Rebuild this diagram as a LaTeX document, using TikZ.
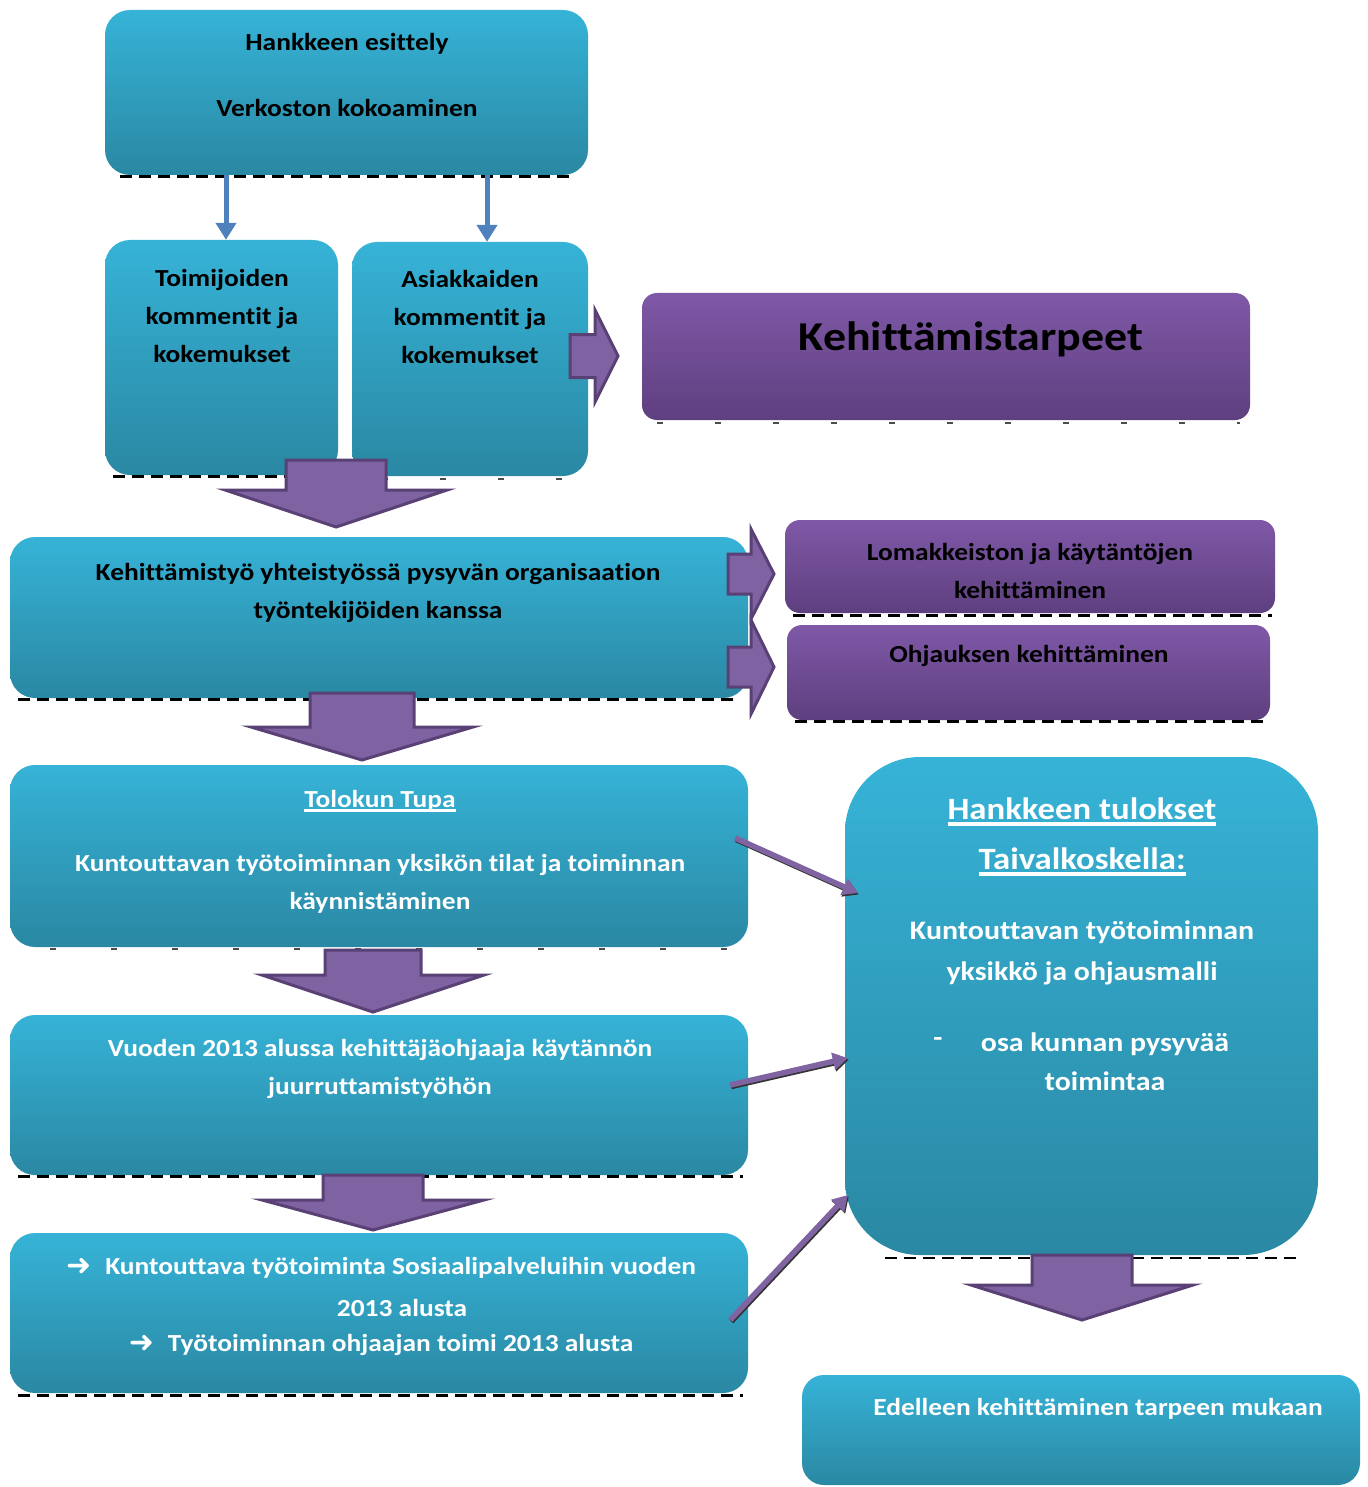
\documentclass[tikz,border=0pt]{standalone}
\usepackage{fontspec}
\setmainfont{Carlito}[FakeStretch=1.12, Ligatures={NoCommon}]
\newfontfamily\symfont{DejaVu Sans}
\usetikzlibrary{arrows.meta,calc}

\definecolor{bluetop}{HTML}{36B3D7}
\definecolor{bluebot}{HTML}{2A88A3}
\definecolor{purptop}{HTML}{7F58A7}
\definecolor{purpbot}{HTML}{5E3F7F}
\definecolor{blockfill}{HTML}{7F62A1}
\definecolor{blockedge}{HTML}{5A4175}
\definecolor{linkblue}{HTML}{4F81BD}
\definecolor{linkpurple}{HTML}{8064A2}

% thick underline: #1 depth below baseline, #2 thickness, #3 text
\newcommand\thickul[3]{\setbox0=\hbox{#3}\leavevmode\rlap{\rule[-#1]{\wd0}{#2}}\box0}
% list arrow bullet
\newcommand\listarrow{{\symfont\bfseries\fontsize{30}{30}\selectfont\raisebox{-1pt}{➜}}}
% downward block arrow: name, centre x, tail y, head y, tip y, half shaft, half head
\newcommand\downblock[7]{%
  \draw[blockshape] (#2-#6,#3) -- (#2+#6,#3) -- (#2+#6,#4) -- (#2+#7,#4) -- (#2,#5)
    -- (#2-#7,#4) -- (#2-#6,#4) -- cycle;
  \coordinate (#1) at (#2,#5);}
% rightward block arrow: name, centre y, tail x, head x, tip x, half shaft, half head
\newcommand\rightblock[7]{%
  \draw[blockshape] (#3,#2-#6) -- (#3,#2+#6) -- (#4,#2+#6) -- (#4,#2+#7) -- (#5,#2)
    -- (#4,#2-#7) -- (#4,#2-#6) -- cycle;
  \coordinate (#1) at (#5,#2);}

\begin{document}
\begin{tikzpicture}[x=1pt,y=-1pt,
  panel/.style={rectangle, rounded corners=#1, inner sep=0pt, draw=none},
  bluebox/.style={panel=#1, top color=bluetop, bottom color=bluebot},
  purplebox/.style={panel=#1, top color=purptop, bottom color=purpbot},
  txt/.style={align=center, inner sep=0pt, font=\fontsize{24.5}{38}\selectfont\bfseries},
  darktxt/.style={txt, text=black},
  lighttxt/.style={txt, text=white},
  dashline/.style={draw=black, line width=3pt, dash pattern=on 12pt off 7pt},
  blockshape/.style={fill=blockfill, draw=blockedge, line width=3pt, line join=miter},
  bluelink/.style={draw=linkblue, line width=5pt, -{Triangle[length=17pt,width=20pt]}},
  purplelink/.style={draw=linkpurple, line width=5.5pt, -{Triangle[length=15pt,width=17pt]},
    preaction={draw=black!80, line width=5.5pt, -{Triangle[length=15pt,width=17pt]},
      transform canvas={xshift=1pt,yshift=-1.5pt}}}
]
\fill[white] (0,0) rectangle (1367,1487);
\useasboundingbox (0,0) rectangle (1367,1487);

% ---------- boxes ----------
\node[bluebox=25pt, minimum width=483, minimum height=165] (intro) at (346.5,92.5) {};
\node[bluebox=25pt, minimum width=233, minimum height=235] (actors) at (221.5,357.5) {};
\node[bluebox=25pt, minimum width=236, minimum height=234] (clients) at (470,359) {};
\node[purplebox=15pt, minimum width=608, minimum height=127] (needs) at (946,356.5) {};
\node[bluebox=25pt, minimum width=738, minimum height=161] (devwork) at (379,617.5) {};
\node[purplebox=15pt, minimum width=490, minimum height=93] (forms) at (1030,566.5) {};
\node[purplebox=15pt, minimum width=483, minimum height=95] (guidance) at (1028.5,672.5) {};
\node[bluebox=25pt, minimum width=738, minimum height=182] (tupa) at (379,856) {};
\node[bluebox=25pt, minimum width=738, minimum height=160] (year) at (379,1095) {};
\node[bluebox=25pt, minimum width=738, minimum height=160] (social) at (379,1313) {};
\node[bluebox=75pt, minimum width=473, minimum height=498] (results) at (1081.5,1006) {};
\node[bluebox=22pt, minimum width=558, minimum height=110] (further) at (1081,1430) {};

% ---------- dashed lower edges ----------
\draw[dashline] ($(intro.south west)+(15,1)$) -- ($(intro.south east)+(-18,1)$);
\draw[dashline] ($(actors.south west)+(8,1)$) -- ($(actors.south east)+(-5,1)$);
\draw[dashline] ($(devwork.south west)+(8,1)$) -- ($(devwork.south east)+(-12,1)$);
\draw[dashline] ($(forms.south west)+(8,2)$) -- ($(forms.south east)+(-3,2)$);
\draw[dashline] ($(guidance.south west)+(8,1)$) -- ($(guidance.south east)+(-3,1)$);
\draw[dashline] ($(year.south west)+(8,1)$) -- ($(year.south east)+(-5,1)$);
\draw[dashline] ($(social.south west)+(8,2)$) -- ($(social.south east)+(-5,2)$);
\draw[dashline, line width=2pt] ($(results.south west)+(40,3)$) -- ($(results.south east)+(-20,3)$);
\draw[black!70, line width=1.5pt, dash pattern=on 6pt off 52pt]
  ($(needs.south west)+(15,3)$) -- ($(needs.south east)+(-10,3)$);
\draw[black!70, line width=1.5pt, dash pattern=on 6pt off 52pt]
  ($(clients.south west)+(30,3)$) -- ($(clients.south east)+(-20,3)$);
\draw[black!70, line width=1.5pt, dash pattern=on 6pt off 55pt]
  ($(tupa.south west)+(40,2)$) -- ($(tupa.south east)+(-5,2)$);

% ---------- texts ----------
\node[darktxt] (t-intro1) at (347,44) {Hankkeen esittely};
\node[darktxt] (t-intro2) at (347,108) {Verkoston kokoaminen};
\node[darktxt] (t-actors) at (222,316) {Toimijoiden\\kommentit ja\\kokemukset};
\node[darktxt] (t-clients) at (470,317) {Asiakkaiden\\kommentit ja\\kokemukset};
\node[darktxt, font=\fontsize{41}{48}\selectfont\bfseries] (t-needs) at (971,339) {Kehittämistarpeet};
\node[darktxt] (t-devwork) at (378,593) {Kehittämistyö yhteistyössä pysyvän organisaation\\työntekijöiden kanssa};
\node[darktxt] (t-forms) at (1030,571) {Lomakkeiston ja käytäntöjen\\kehittäminen};
\node[darktxt] (t-guidance) at (1029,656) {Ohjauksen kehittäminen};
\node[lighttxt] (t-tupa1) at (380,801) {\thickul{5pt}{3pt}{Tolokun Tupa}};
\node[lighttxt] (t-tupa2) at (380,884) {Kuntouttavan työtoiminnan yksikön tilat ja toiminnan\\käynnistäminen};
\node[lighttxt] (t-year) at (380,1069) {Vuoden 2013 alussa kehittäjäohjaaja käytännön\\juurruttamistyöhön};
\node[lighttxt] (t-social1) at (381,1268) {\listarrow\hspace{14pt}Kuntouttava työtoiminta Sosiaalipalveluihin vuoden};
\node[lighttxt] (t-social2) at (402,1308) {2013 alusta};
\node[lighttxt] (t-social3) at (381,1345) {\listarrow\hspace{14pt}Työtoiminnan ohjaajan toimi 2013 alusta};
\node[lighttxt, font=\fontsize{31}{50}\selectfont\bfseries] (t-results1) at (1082,837)
  {\thickul{6pt}{3.5pt}{Hankkeen tulokset}\\\thickul{6pt}{3.5pt}{Taivalkoskella:}};
\node[lighttxt, font=\fontsize{26.7}{41}\selectfont\bfseries] (t-results2) at (1082,953)
  {Kuntouttavan työtoiminnan\\yksikkö ja ohjausmalli};
\node[lighttxt, font=\fontsize{26.7}{39}\selectfont\bfseries] (t-dash) at (938,1042) {-};
\node[lighttxt, font=\fontsize{26.7}{39}\selectfont\bfseries] (t-results3) at (1105,1062)
  {osa kunnan pysyvää\\toimintaa};
\node[lighttxt] (t-further) at (1098,1409) {Edelleen kehittäminen tarpeen mukaan};

% ---------- blue links ----------
\draw[bluelink] ($(intro.south)+(-120.5,0)$) -- ($(actors.north)+(4.5,0)$);
\draw[bluelink] ($(intro.south)+(140.5,0)$) -- ($(clients.north)+(17,0)$);

% ---------- block arrows ----------
\downblock{dn1}{336}{460}{490}{527}{50}{111}
\downblock{dn2}{362}{693}{727}{760}{52}{111}
\downblock{dn3}{373}{950}{975}{1012}{48}{111}
\downblock{dn4}{373}{1175}{1200}{1230}{50}{111}
\downblock{dn5}{1082}{1255}{1285}{1320}{50}{111}
\rightblock{rt1}{356}{570}{595}{618}{21.5}{46}
\rightblock{rt2}{574}{728}{751}{774}{20}{45}
\rightblock{rt3}{667}{728}{751}{774}{20}{47}

% ---------- purple links to results ----------
\draw[purplelink] ($(tupa.east)+(-13,-18)$) -- ($(results.west)+(13,-113)$);
\draw[purplelink] ($(year.east)+(-18,-10)$) -- ($(results.west)+(3,52)$);
\draw[purplelink] ($(social.east)+(-18,7)$) -- ($(results.west)+(3,189)$);
\end{tikzpicture}
\end{document}
